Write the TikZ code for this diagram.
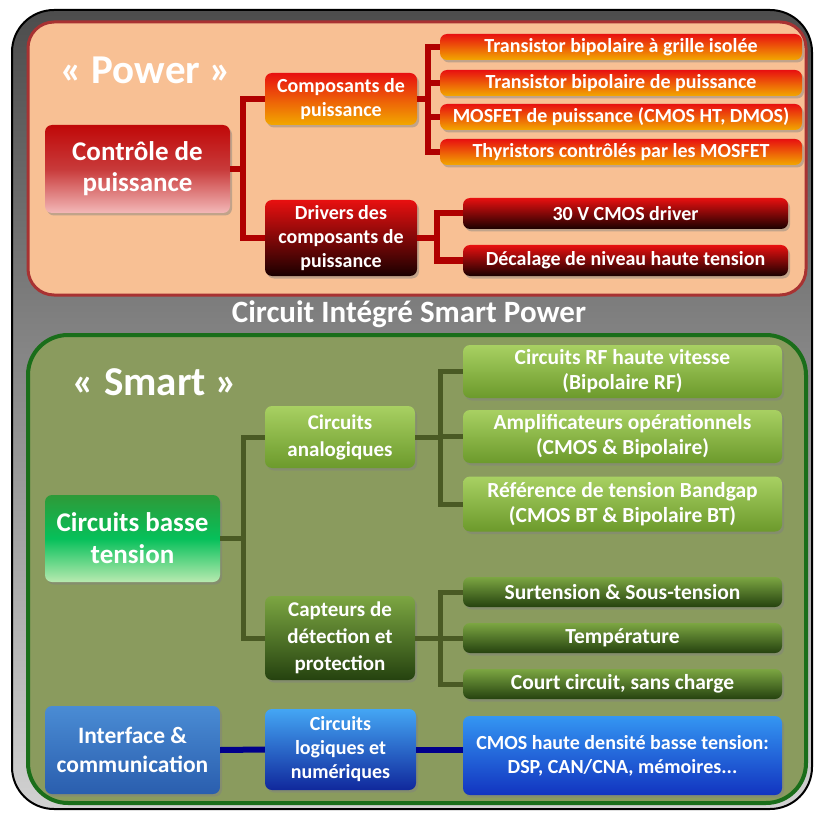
\documentclass[tikz,border=0pt]{standalone}
\usepackage{fontspec}
\setmainfont{Carlito}
\usetikzlibrary{shadows,calc}
\definecolor{peach}{HTML}{F8C094}
\definecolor{pborder}{HTML}{A83232}
\definecolor{olive}{HTML}{8A9B5E}
\definecolor{gborder}{HTML}{1A6E1A}
\definecolor{redA}{HTML}{E81010}
\definecolor{redD}{HTML}{C00808}
\definecolor{orangeB}{HTML}{F2A800}
\definecolor{pinkB}{HTML}{F3B8B8}
\definecolor{blackred}{HTML}{1A0000}
\definecolor{lgreenT}{HTML}{A8D062}
\definecolor{lgreenB}{HTML}{6C9A2C}
\definecolor{dgreenT}{HTML}{7CA642}
\definecolor{dgreenB}{HTML}{25420F}
\definecolor{greenT}{HTML}{2E9A38}
\definecolor{greenM}{HTML}{06C05A}
\definecolor{greenB}{HTML}{B8EAB0}
\definecolor{blueT}{HTML}{4A8CD4}
\definecolor{blueB}{HTML}{2A5EAE}
\definecolor{lblueT}{HTML}{44A6F4}
\definecolor{dblueB}{HTML}{10289C}
\definecolor{cmosT}{HTML}{3496F2}
\definecolor{cmosB}{HTML}{1234C0}
\definecolor{redline}{HTML}{B00000}
\definecolor{oliveline}{HTML}{4A5A24}
\definecolor{navyline}{HTML}{00008B}
\definecolor{ctrlM}{HTML}{C83A3A}
\tikzset{
  box/.style={rounded corners=7pt, draw=none, text=white, align=center, inner sep=0pt,
    font=\bfseries\fontsize{20}{24}\selectfont,
    drop shadow={opacity=0.45, shadow xshift=2pt, shadow yshift=-2.5pt}},
  bigbox/.style={box, font=\bfseries\fontsize{27}{31}\selectfont},
  leafP/.style={box, top color=redA, bottom color=orangeB, minimum width=362pt, minimum height=26pt, font=\bfseries\fontsize{20}{22}\selectfont},
  leafD/.style={box, top color=redA, bottom color=blackred, minimum width=325pt, minimum height=31pt, font=\bfseries\fontsize{20}{22}\selectfont},
  leafA/.style={box, top color=lgreenT, bottom color=lgreenB, minimum width=319pt, font=\bfseries\fontsize{21.5}{25}\selectfont},
  leafS/.style={box, top color=dgreenT, bottom color=dgreenB, minimum width=319pt, minimum height=30pt, font=\bfseries\fontsize{21.5}{24}\selectfont},
  rline/.style={draw=redline, line width=6pt, line join=miter},
  gline/.style={draw=oliveline, line width=5pt, line join=miter},
  bline/.style={draw=navyline, line width=6pt},
}
\begin{document}
\begin{tikzpicture}[x=1pt,y=-1pt]
\useasboundingbox (0,0) rectangle (814,813);
% outer frame
\path[rounded corners=42pt, top color=black!70, bottom color=black!18, draw=black, line width=2pt]
  (12,10) rectangle (812,809);
% power panel
\path[rounded corners=26pt, fill=peach, draw=pborder, line width=3pt] (28,22) rectangle (806,295);
% smart panel
\path[rounded corners=40pt, fill=olive, draw=gborder, line width=4pt] (28,335) rectangle (806,803);
% titles
\node[text=white, font=\bfseries\fontsize{41}{46}\selectfont] (ptitle) at (146,70) {« Power »};
\node[text=white, font=\bfseries\fontsize{31}{36}\selectfont] (ctitle) at (409,314) {Circuit Intégré Smart Power};
\node[text=white, font=\bfseries\fontsize{41}{46}\selectfont] (stitle) at (155,382) {« Smart »};

% connector junctions
\coordinate (j1) at (243,169);
\coordinate (j2) at (428,99);
\coordinate (j3) at (437,238);
\coordinate (j4) at (243,538.5);
\coordinate (j5) at (440,437);
\coordinate (j6) at (440,638);

% power nodes
\node[bigbox, top color=redD, bottom color=pinkB, middle color=ctrlM, minimum width=185pt, minimum height=88pt] (ctrl) at (137.5,169) {Contrôle de\\puissance};
\node[box, top color=redA, bottom color=orangeB, minimum width=152pt, minimum height=52pt] (comp) at (341,99) {Composants de\\puissance};
\node[box, top color=redA, bottom color=blackred, minimum width=152pt, minimum height=76pt] (drv) at (341,238) {Drivers des\\composants de\\puissance};
\node[leafP] (p1) at (621,47) {Transistor bipolaire à grille isolée};
\node[leafP] (p2) at (621,83) {Transistor bipolaire de puissance};
\node[leafP] (p3) at (621,117) {MOSFET de puissance (CMOS HT, DMOS)};
\node[leafP] (p4) at (621,152) {Thyristors contrôlés par les MOSFET};
\node[leafD] (d1) at (625.5,213.5) {30 V CMOS driver};
\node[leafD] (d2) at (625.5,260.5) {Décalage de niveau haute tension};

% smart nodes
\node[bigbox, top color=greenT, bottom color=greenB, middle color=greenM, minimum width=175pt, minimum height=87pt, font=\bfseries\fontsize{27}{32}\selectfont] (bt) at (132.5,538.5) {Circuits basse\\tension};
\node[box, top color=lgreenT, bottom color=lgreenB, minimum width=150pt, minimum height=62pt, font=\bfseries\fontsize{21}{27}\selectfont] (ana) at (340,437) {Circuits\\analogiques};
\node[box, top color=dgreenT, bottom color=dgreenB, minimum width=150pt, minimum height=84pt, font=\bfseries\fontsize{21}{27}\selectfont] (cap) at (340,638) {Capteurs de\\détection et\\protection};
\node[leafA, minimum height=53pt] (a1) at (622.5,371.5) {Circuits RF haute vitesse\\(Bipolaire RF)};
\node[leafA, minimum height=53pt] (a2) at (622.5,436.5) {Amplificateurs opérationnels\\(CMOS \& Bipolaire)};
\node[leafA, minimum height=55pt] (a3) at (622.5,504) {Référence de tension Bandgap\\(CMOS BT \& Bipolaire BT)};
\node[leafS] (s1) at (622.5,592) {Surtension \& Sous-tension};
\node[leafS] (s2) at (622.5,638) {Température};
\node[leafS] (s3) at (622.5,684) {Court circuit, sans charge};

% blue row
\node[bigbox, top color=blueT, bottom color=blueB, minimum width=175pt, minimum height=88pt, font=\bfseries\fontsize{23.5}{29}\selectfont] (itf) at (132.5,750) {Interface \&\\communication};
\node[box, top color=lblueT, bottom color=dblueB, minimum width=151pt, minimum height=81pt, font=\bfseries\fontsize{20}{24}\selectfont] (log) at (340.5,749.5) {Circuits\\logiques et\\numériques};
\node[box, top color=cmosT, bottom color=cmosB, minimum width=319pt, minimum height=79pt, font=\bfseries\fontsize{20}{24}\selectfont] (cmos) at (622.5,755.5) {CMOS haute densité basse tension:\\DSP, CAN/CNA, mémoires...};

% connectors power
\path[rline] (ctrl.east) -- (j1) |- (comp.west);
\path[rline] (j1) |- (drv.west);
\path[rline] (comp.east) -- (j2) |- (p1.west);
\path[rline] (j2) |- (p2.west);
\path[rline] (j2) |- (p3.west);
\path[rline] (j2) |- (p4.west);
\path[rline] (drv.east) -- (j3) |- (d1.west);
\path[rline] (j3) |- (d2.west);
% connectors smart
\path[gline] (bt.east) -- (j4) |- (ana.west);
\path[gline] (j4) |- (cap.west);
\path[gline] (ana.east) -- (j5) |- (a1.west);
\path[gline] (j5) |- (a2.west);
\path[gline] (j5) |- (a3.west);
\path[gline] (cap.east) -- (j6) |- (s1.west);
\path[gline] (j6) |- (s2.west);
\path[gline] (j6) |- (s3.west);
% connectors blue
\path[bline] (itf.east) -- (log.west);
\path[bline] (log.east) -- (log.east -| cmos.west);
\end{tikzpicture}
\end{document}
